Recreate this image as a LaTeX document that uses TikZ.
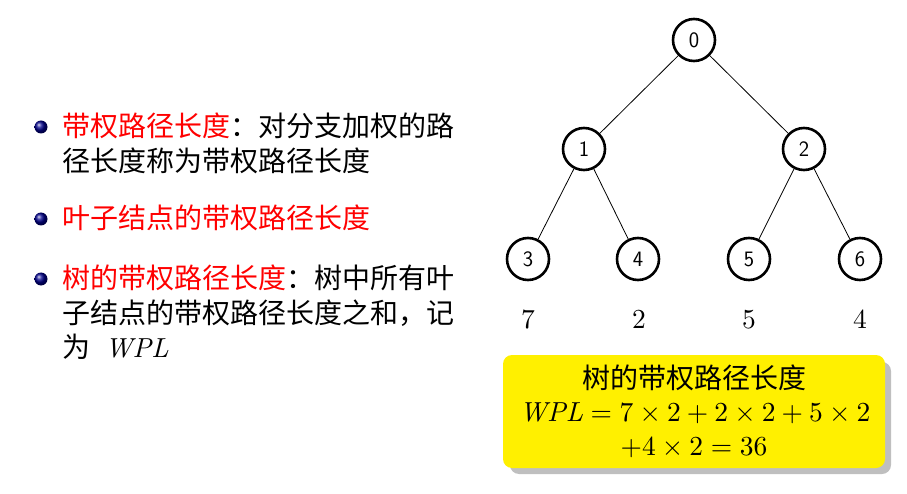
\documentclass[tikz,border=0pt]{standalone}
\usepackage{graphicx}
\usepackage[no-math]{fontspec}
\newfontfamily\cjk{Noto Sans CJK SC}
\definecolor{boxyellow}{RGB}{255,240,0}
\newcommand{\scaledmath}[1]{\scalebox{2.75}{\fontsize{10}{12}\selectfont$#1$}}
\newcommand{\wpl}{{\rmfamily\itshape WPL}}
\tikzset{
  tnode/.style={circle,draw=black,line width=2.6pt,minimum size=42pt,inner sep=0pt,font=\sffamily\fontsize{22}{22}\selectfont},
  tedge/.style={line width=0.8pt},
  txt/.style={anchor=west,inner sep=0pt,font=\cjk\fontsize{28}{34}\selectfont},
  wlab/.style={inner sep=0pt},
  bul/.style={ball color=blue!55!black},
}
\begin{document}
\begin{tikzpicture}[x=1pt,y=-1pt]
\useasboundingbox (0,0) rectangle (907,494);
% bullets
\shade[bul] (41,127) circle (6.5);
\shade[bul] (41,219) circle (6.5);
\shade[bul] (41,279) circle (6.5);
% text
\node[txt] (l1) at (62,126) {\textcolor{red}{带权路径长度}：对分支加权的路};
\node[txt] (l2) at (62,161) {径长度称为带权路径长度};
\node[txt] (l3) at (62,218) {\textcolor{red}{叶子结点的带权路径长度}};
\node[txt] (l4) at (62,278) {\textcolor{red}{树的带权路径长度}：树中所有叶};
\node[txt] (l5) at (62,313) {子结点的带权路径长度之和，记};
\node[txt] (l6) at (62,347) {为\hspace{15pt}\scaledmath{\hbox{\wpl}}};
% tree
\node[tnode] (n0) at (694,40) {0};
\node[tnode] (n1) at (584,149) {1};
\node[tnode] (n2) at (804,149) {2};
\node[tnode] (n3) at (528,259) {3};
\node[tnode] (n4) at (638,259) {4};
\node[tnode] (n5) at (749,259) {5};
\node[tnode] (n6) at (860,259) {6};
\draw[tedge] (n0) -- (n1);
\draw[tedge] (n0) -- (n2);
\draw[tedge] (n1) -- (n3);
\draw[tedge] (n1) -- (n4);
\draw[tedge] (n2) -- (n5);
\draw[tedge] (n2) -- (n6);
\node[wlab] (w3) at (528,320) {\scaledmath{7}};
\node[wlab] (w4) at (639,320) {\scaledmath{2}};
\node[wlab] (w5) at (749,320) {\scaledmath{5}};
\node[wlab] (w6) at (860,320) {\scaledmath{4}};
% box
\fill[gray!50,rounded corners=9pt] (510,362) rectangle (891,474);
\fill[boxyellow,rounded corners=9pt] (503,355) rectangle (885,468);
\node[inner sep=0pt,font=\cjk\fontsize{28}{34}\selectfont] (b1) at (694,378) {树的带权路径长度};
\node[inner sep=0pt] (b2) at (695,413) {\scaledmath{\hbox{\wpl}=7\times2+2\times2+5\times2}};
\node[inner sep=0pt] (b3) at (694,448) {\scaledmath{+4\times2=36}};
\end{tikzpicture}
\end{document}
